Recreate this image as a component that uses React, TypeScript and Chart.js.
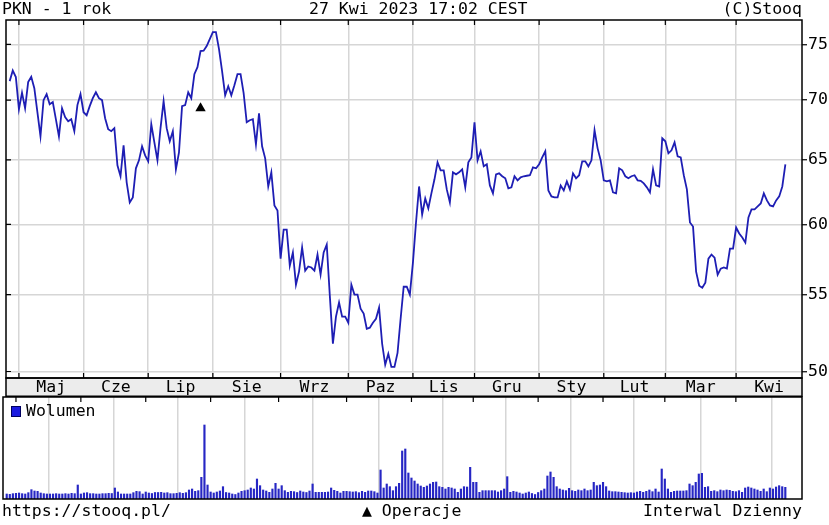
import React, { useEffect, useRef } from 'react';
import { Chart, registerables } from 'chart.js';

Chart.register(...registerables);

const FONT = "'DejaVu Sans Mono', monospace";

const monthLabels = ['Maj', 'Cze', 'Lip', 'Sie', 'Wrz', 'Paz', 'Lis', 'Gru', 'Sty', 'Lut', 'Mar', 'Kwi'];
const monthStartIdx = [3, 24, 45, 66, 88, 110, 131, 151, 172, 193, 213, 236];
const priceTicks = [50, 55, 60, 65, 70, 75];

const prices = [
  71.66, 72.60, 72.02, 69.21, 70.64, 69.29, 71.57, 72.04, 71.04, 68.95,
  66.92, 69.99, 70.51, 69.64, 69.82, 68.36, 66.92, 69.29, 68.53, 68.19,
  68.36, 67.35, 69.56, 70.51, 68.95, 68.69, 69.47, 70.16, 70.68, 70.16,
  69.99, 68.44, 67.51, 67.35, 67.60, 64.56, 63.69, 66.18, 63.21, 61.66,
  62.04, 64.32, 64.96, 66.10, 65.36, 64.88, 67.93, 66.42, 64.96, 67.60,
  69.90, 67.60, 66.51, 67.35, 64.24, 65.61, 69.47, 69.56, 70.68, 70.16,
  72.28, 72.91, 74.38, 74.42, 74.84, 75.49, 76.15, 76.15, 74.56, 72.55,
  70.42, 71.21, 70.42, 71.30, 72.28, 72.28, 70.60, 68.10, 68.27, 68.36,
  66.26, 68.86, 66.10, 65.12, 62.89, 64.00, 61.43, 61.05, 57.51, 59.62,
  59.62, 57.01, 57.95, 55.68, 56.59, 58.31, 56.66, 56.95, 56.88, 56.66,
  57.80, 56.38, 57.95, 58.52, 54.93, 51.75, 53.52, 54.46, 53.52, 53.52,
  53.12, 55.68, 55.00, 55.00, 54.05, 53.72, 52.72, 52.79, 53.12, 53.38,
  54.12, 51.75, 50.42, 51.11, 50.29, 50.29, 51.17, 53.38, 55.54, 55.54,
  55.00, 57.23, 60.14, 62.89, 60.75, 61.96, 61.20, 62.35, 63.45, 64.80,
  64.16, 64.16, 62.66, 61.66, 64.00, 63.84, 64.00, 64.24, 62.82, 64.80,
  65.20, 68.10, 64.96, 65.69, 64.48, 64.64, 62.97, 62.35, 63.84, 63.92,
  63.69, 63.53, 62.74, 62.82, 63.69, 63.37, 63.61, 63.69, 63.73, 63.77,
  64.40, 64.32, 64.64, 65.20, 65.69, 62.58, 62.12, 62.04, 62.04, 62.97,
  62.58, 63.29, 62.66, 63.92, 63.53, 63.77, 64.88, 64.88, 64.48, 64.96,
  67.43, 65.93, 64.96, 63.37, 63.29, 63.37, 62.43, 62.35, 64.32, 64.16,
  63.69, 63.53, 63.69, 63.77, 63.37, 63.33, 63.13, 62.82, 62.43, 64.24,
  62.97, 62.89, 66.76, 66.51, 65.53, 65.77, 66.42, 65.28, 65.20, 63.77,
  62.66, 60.14, 59.84, 56.59, 55.61, 55.47, 55.82, 57.51, 57.80, 57.58,
  56.38, 56.80, 56.88, 56.80, 58.23, 58.23, 59.77, 59.33, 59.03, 58.66,
  60.52, 61.13, 61.13, 61.35, 61.58, 62.35, 61.81, 61.43, 61.35, 61.81,
  62.12, 62.89, 64.64,
];

const volumes = [
  1500, 1400, 1600, 1700, 1800, 1600, 1500, 1900, 2800, 2400,
  2300, 1800, 1600, 1500, 1500, 1500, 1600, 1500, 1500, 1600,
  1500, 1700, 1600, 4200, 1500, 1800, 1900, 1600, 1600, 1500,
  1500, 1600, 1600, 1700, 1650, 3300, 2100, 1500, 1500, 1500,
  1500, 1900, 2300, 2200, 1500, 2100, 1800, 1650, 1950, 1950,
  2000, 1800, 1900, 1600, 1600, 1700, 1900, 1700, 1900, 2700,
  3000, 2300, 2500, 6500, 22200, 4200, 2100, 1800, 2100, 2400,
  3700, 1950, 1800, 1500, 1350, 1800, 2300, 2500, 2700, 3300,
  3000, 6000, 4000, 2700, 2400, 2000, 3000, 4700, 3000, 4000,
  2500, 2000, 2300, 2200, 1950, 2400, 2100, 1950, 2400, 4500,
  2000, 2000, 2000, 2000, 2100, 3300, 2600, 2300, 1800, 2300,
  2300, 2200, 2100, 2200, 1900, 2300, 2000, 2400, 2400, 2200,
  1800, 8700, 3300, 4500, 3700, 2500, 3700, 4700, 14400, 15000,
  7800, 6300, 5400, 4500, 3900, 3500, 3900, 4500, 5000, 5100,
  3700, 3500, 3000, 3500, 3300, 3000, 2000, 3000, 3700, 3600,
  9500, 5000, 5000, 2000, 2500, 2500, 2500, 2500, 2500, 2100,
  2500, 3000, 6700, 2000, 2300, 2100, 1800, 1500, 1800, 2100,
  1650, 1350, 1950, 2500, 3000, 6900, 8100, 6500, 3700, 3000,
  2700, 2500, 3200, 2500, 2300, 2700, 2500, 3000, 2500, 2700,
  5000, 4000, 4200, 5000, 3700, 2400, 2200, 2200, 2100, 2000,
  1900, 1800, 1900, 1800, 2100, 2300, 2000, 2300, 2700, 2200,
  3000, 2100, 9000, 6000, 3000, 2000, 2300, 2400, 2400, 2400,
  2500, 4500, 4000, 5000, 7500, 7700, 3500, 3700, 2300, 2500,
  2200, 2700, 2500, 2700, 2600, 2300, 2200, 2500, 2000, 3300,
  3600, 3300, 3000, 2700, 2300, 3000, 2200, 3300, 3000, 3600,
  4000, 3700, 3500,
];

const operationIdx = [62];
const operationLevel = [69.3];

const xMin = -1.2;
const xMax = 257.4;
const priceMin = 49.6;
const priceMax = 77.3;
const volumeMax = 30600;

const monthMid = monthStartIdx.map((s, k) =>
  (s + (k + 1 < monthStartIdx.length ? monthStartIdx[k + 1] : xMax)) / 2
);

const GRID = '#d6d6d6';

const priceFrame = {
  id: 'priceFrame',
  beforeDraw(chart: any) {
    const { ctx, chartArea: a } = chart;
    ctx.save();
    ctx.fillStyle = '#ececec';
    ctx.fillRect(a.left, a.bottom, a.right - a.left, chart.height - a.bottom);
    ctx.restore();
  },
  afterDraw(chart: any) {
    const { ctx, chartArea: a } = chart;
    const xs = chart.scales.xg;
    const ys = chart.scales.y;
    ctx.save();
    ctx.strokeStyle = '#000';
    ctx.lineWidth = 1.5;
    ctx.strokeRect(a.left, a.top, a.right - a.left, a.bottom - a.top);
    ctx.strokeRect(a.left, a.bottom, a.right - a.left, chart.height - a.bottom - 0.75);
    ctx.lineWidth = 1.2;
    ctx.beginPath();
    monthStartIdx.forEach((i) => {
      const x = xs.getPixelForValue(i);
      ctx.moveTo(x, a.top);
      ctx.lineTo(x, a.top + 5);
      ctx.moveTo(x, a.bottom);
      ctx.lineTo(x, a.bottom - 5);
    });
    priceTicks.forEach((v) => {
      const y = ys.getPixelForValue(v);
      ctx.moveTo(a.left, y);
      ctx.lineTo(a.left + 5, y);
    });
    ctx.stroke();
    ctx.restore();
  },
};

const volumeFrame = {
  id: 'volumeFrame',
  afterDraw(chart: any) {
    const { ctx, chartArea: a } = chart;
    const xs = chart.scales.x;
    ctx.save();
    ctx.strokeStyle = '#000';
    ctx.lineWidth = 1.5;
    ctx.strokeRect(a.left, a.top, a.right - a.left, a.bottom - a.top);
    ctx.lineWidth = 1.2;
    ctx.beginPath();
    monthStartIdx.forEach((i) => {
      const x = xs.getPixelForValue(i);
      ctx.moveTo(x, a.top);
      ctx.lineTo(x, a.top + 5);
    });
    ctx.stroke();
    ctx.restore();
  },
};

const txt: React.CSSProperties = {
  position: 'absolute',
  fontFamily: FONT,
  fontSize: '16.5px',
  lineHeight: '19px',
  color: '#000',
  whiteSpace: 'pre',
  margin: 0,
};

export default function App() {
  const priceRef = useRef<HTMLCanvasElement>(null);
  const volRef = useRef<HTMLCanvasElement>(null);

  useEffect(() => {
    const priceChart = new Chart(priceRef.current as HTMLCanvasElement, {
      type: 'line',
      data: {
        datasets: [
          {
            type: 'line',
            data: prices.map((v, i) => ({ x: i, y: v })),
            borderColor: '#1e1eb4',
            borderWidth: 1.8,
            pointRadius: 0,
            tension: 0,
            xAxisID: 'x',
            yAxisID: 'y',
          } as any,
          {
            type: 'scatter',
            data: operationIdx.map((i, k) => ({ x: i, y: operationLevel[k] })),
            pointStyle: 'triangle',
            pointRadius: 6,
            backgroundColor: '#000',
            borderColor: '#000',
            borderWidth: 0,
            xAxisID: 'x',
            yAxisID: 'y',
          } as any,
        ],
      },
      options: {
        animation: false,
        responsive: false,
        events: [],
        layout: { padding: { top: 20, left: 3, right: 0, bottom: 0 } },
        plugins: { legend: { display: false }, tooltip: { enabled: false } },
        scales: {
          x: {
            type: 'linear',
            position: 'bottom',
            min: xMin,
            max: xMax,
            afterBuildTicks: (s: any) => {
              s.ticks = monthMid.map((v) => ({ value: v }));
            },
            afterFit: (s: any) => {
              s.height = 19;
            },
            grid: { display: false, drawTicks: false },
            border: { display: false },
            ticks: {
              autoSkip: false,
              maxRotation: 0,
              minRotation: 0,
              padding: 0,
              color: '#000',
              font: { family: FONT, size: 16.5 },
              callback: (_v: any, idx: number) => monthLabels[idx],
            },
          },
          xg: {
            type: 'linear',
            position: 'top',
            min: xMin,
            max: xMax,
            afterBuildTicks: (s: any) => {
              s.ticks = monthStartIdx.map((v) => ({ value: v }));
            },
            afterFit: (s: any) => {
              s.height = 0;
            },
            grid: { color: GRID, lineWidth: 1.5, drawTicks: false },
            border: { display: false },
            ticks: { display: false },
          },
          y: {
            type: 'logarithmic',
            position: 'right',
            min: priceMin,
            max: priceMax,
            afterBuildTicks: (s: any) => {
              s.ticks = priceTicks.map((v) => ({ value: v }));
            },
            afterFit: (s: any) => {
              s.width = 27;
            },
            grid: { color: GRID, lineWidth: 1.5, tickLength: 5, tickColor: '#000', tickWidth: 1.2 },
            border: { display: false },
            ticks: {
              padding: 1,
              color: '#000',
              font: { family: FONT, size: 16.5 },
              callback: (v: any) => String(v),
            },
          },
        } as any,
      },
      plugins: [priceFrame],
    });

    const volChart = new Chart(volRef.current as HTMLCanvasElement, {
      type: 'bar',
      data: {
        datasets: [
          {
            data: volumes.map((v, i) => ({ x: i, y: v })),
            backgroundColor: '#2626c4',
            barThickness: 1.5,
            borderWidth: 0,
          } as any,
        ],
      },
      options: {
        animation: false,
        responsive: false,
        events: [],
        layout: { padding: { top: 17, left: 3, right: 27, bottom: 6 } },
        plugins: { legend: { display: false }, tooltip: { enabled: false } },
        scales: {
          x: {
            type: 'linear',
            min: xMin,
            max: xMax,
            offset: false,
            afterBuildTicks: (s: any) => {
              s.ticks = monthStartIdx.map((v) => ({ value: v }));
            },
            afterFit: (s: any) => {
              s.height = 0;
            },
            grid: { color: GRID, lineWidth: 1.5, drawTicks: false },
            border: { display: false },
            ticks: { display: false },
          },
          y: { display: false, min: 0, max: volumeMax },
        } as any,
      },
      plugins: [volumeFrame],
    });

    return () => {
      priceChart.destroy();
      volChart.destroy();
    };
  }, []);

  return (
    <div style={{ position: 'absolute', left: 0, top: 0, width: 829, height: 525, background: '#fff', overflow: 'hidden' }}>
      <canvas ref={priceRef} width={829} height={397} style={{ position: 'absolute', left: 0, top: 0 }} />
      <canvas ref={volRef} width={829} height={125} style={{ position: 'absolute', left: 0, top: 380 }} />
      <div style={{ ...txt, left: 2, top: -1 }}>PKN - 1 rok</div>
      <div style={{ ...txt, left: 309, top: -1 }}>27 Kwi 2023 17:02 CEST</div>
      <div style={{ ...txt, right: 27, top: -1, textAlign: 'right' }}>(C)Stooq</div>
      <div style={{ position: 'absolute', left: 11, top: 406, width: 8, height: 9, background: '#1a1ae0', border: '1px solid #000060' }} />
      <div style={{ ...txt, left: 26, top: 401 }}>Wolumen</div>
      <div style={{ ...txt, left: 2, top: 501 }}>https://stooq.pl/</div>
      <div style={{ ...txt, left: 362, top: 501 }}>▲ Operacje</div>
      <div style={{ ...txt, right: 27, top: 501, textAlign: 'right' }}>Interwal Dzienny</div>
    </div>
  );
}
